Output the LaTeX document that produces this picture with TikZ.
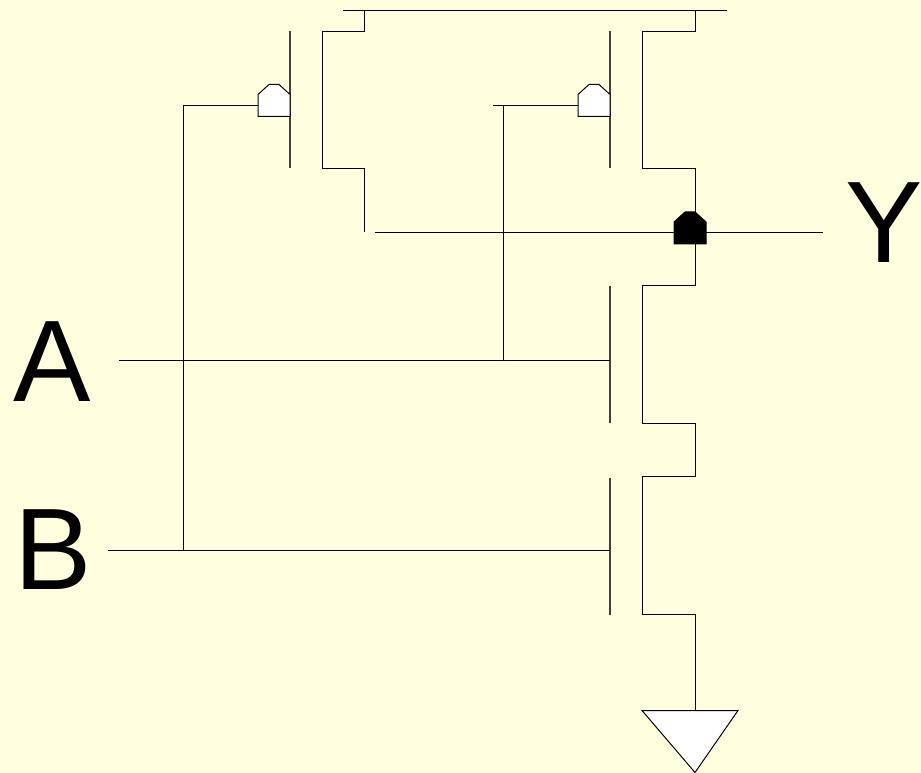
\documentclass[tikz,border=0pt]{standalone}
\usepackage{fontspec}
\setmainfont{Liberation Sans}
\usetikzlibrary{positioning}

\definecolor{paper}{HTML}{FFFFE0}

\tikzset{
  wire/.style={draw=black, line width=0.75pt},
  gateline/.style={draw=black!75, line width=1pt},
  pinlabel/.style={inner sep=0pt, font=\fontsize{87}{87}\selectfont},
  bubble/.pic={
    \path[draw=black, line width=0.75pt, fill=#1] (-16,11) -- (-16,-11) -- (-5,-21) -- (5,-21)
      -- (16,-11) -- (16,11) -- cycle;
  }
}

\begin{document}
\begin{tikzpicture}[x=0.75pt, y=-0.75pt]
  \fill[paper] (0,0) rectangle (921,773);
  \useasboundingbox (0,0) rectangle (921,773);

  \begin{scope}[yshift=-0.375pt]
  % rails and junctions
  \coordinate (railL) at (343,10);
  \coordinate (railR) at (727,10);
  \coordinate (srcB) at (364.5,10);
  \coordinate (srcA) at (695,10);
  \coordinate (outL) at (375,232);
  \coordinate (outR) at (823,232);
  \coordinate (inA) at (119,360);
  \coordinate (inB) at (108,550);
  \coordinate (gndTop) at (695,710);
  \coordinate (tapA) at (503,360);
  \coordinate (tapB) at (183,550);
  \coordinate (gateA) at (578,105);
  \coordinate (gateB) at (258,105);
  \coordinate (stubA) at (493,105);

  \draw[wire] (railL) -- (railR);
  \draw[wire] (outL) -- (outR);

  % left pmos
  \draw[gateline] (290,31) -- (290,168);
  \draw[wire] (srcB) -- (364.5,31) -- (322,31) -- (322,168) -- (364.5,168) -- (364.5,232);

  % the long chain on the right
  \foreach \g/\t/\b in {610/31/168, 610/286/423, 610/477/614}
    \draw[gateline] (\g,\t) -- (\g,\b);
  \draw[wire] (srcA) -- (695,31) -- (642,31) -- (642,168) -- (695,168)
    -- (695,285) -- (642,285) -- (642,423) -- (695,423)
    -- (695,476) -- (642,476) -- (642,614) -- (695,614) -- (gndTop);

  % inputs
  \draw[wire] (inA) -- (tapA) -- (610,360);
  \draw[wire] (inB) -- (tapB) -- (610,550);
  \draw[wire] (tapB) -- (183,105) -- (gateB);
  \draw[wire] (tapA) -- (503,105);
  \draw[wire] (stubA) -- (gateA);

  \pic at (274,105) {bubble=white};
  \pic at (594,105) {bubble=white};
  \pic at (690,232.5) {bubble=black};

  % ground
  \draw[wire, fill=white] (642,710) -- (738,710) -- (695,772) -- cycle;
  \end{scope}

  \node[pinlabel] (labelA) at (52,361.5) {A};
  \node[pinlabel] (labelB) at (53.5,549.5) {B};
  \node[pinlabel] (labelY) at (884,222.5) {Y};
\end{tikzpicture}
\end{document}
